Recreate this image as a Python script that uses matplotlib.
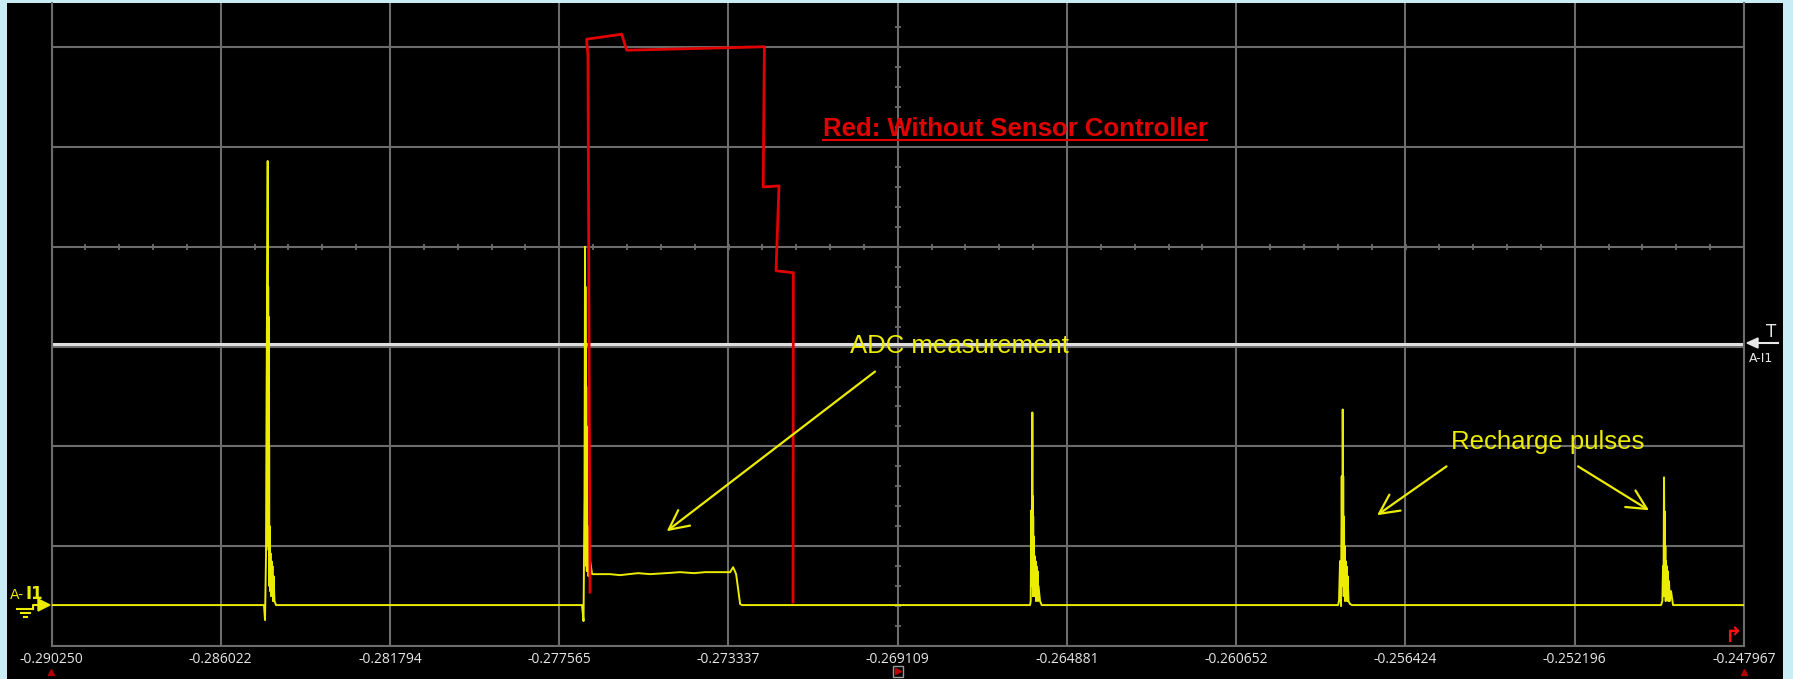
import numpy as np
import matplotlib
matplotlib.use("Agg")
import matplotlib.pyplot as plt
from matplotlib.lines import Line2D
from matplotlib.patches import Rectangle, Polygon

# --- data ---
# time axis (s), one label per division
tick_times = [-0.290250, -0.286022, -0.281794, -0.277565, -0.273337, -0.269109,
              -0.264881, -0.260652, -0.256424, -0.252196, -0.247967]
# vertical axis in divisions, 0 = bottom of screen
BASE = 0.41            # yellow idle level
trigger_level = 3.03   # white trigger line

# red trace: without sensor controller
red_t = [-0.276797, -0.276847, -0.276872, -0.276880, -0.276005, -0.275880,
         -0.273299, -0.272440, -0.272470, -0.272075, -0.272150, -0.271717, -0.271725]
red_v = [0.54, 5.92, 6.02, 6.08, 6.13, 5.97, 5.995, 6.005, 4.60, 4.61, 3.76, 3.74, 0.44]

# yellow trace: start time of each burst (s) and points relative to it (us)
pulse_start = [-0.284941, -0.276996, -0.265804, -0.258109, -0.250040]

pulse1_us = [0, 25, 50, 62, 92, 96, 100, 104, 108, 112, 116, 120, 124, 128, 134, 142,
             152, 162, 175, 188, 200, 212, 225, 238, 262, 300]
pulse1_v = [0.41, 0.26, 0.9, 2.3, 4.86, 3.75, 1.2, 3.6, 1.0, 3.3, 0.96, 2.8, 0.9, 2.0,
            0.6, 1.2, 0.55, 0.93, 0.5, 0.85, 0.6, 0.8, 0.45, 0.7, 0.45, 0.41]

# ADC measurement burst with plateau
pulse2_us = [0, 37, 62, 75, 80, 85, 90, 95, 100, 105, 110, 115, 120, 125, 137, 150, 162,
             187, 250, 700, 950, 1400, 1700, 2100, 2450, 2800, 3075, 3400, 3700, 3775,
             3850, 3950, 4000]
pulse2_v = [0.41, 0.25, 1.5, 4.0, 2.1, 3.6, 1.0, 3.0, 0.9, 2.6, 0.8, 2.2, 0.75, 1.6, 0.8,
            1.2, 0.7, 0.9, 0.72, 0.72, 0.71, 0.73, 0.72, 0.73, 0.74, 0.73, 0.74, 0.74,
            0.74, 0.79, 0.72, 0.42, 0.41]

pulse3_us = [0, 17, 33, 42, 58, 62, 67, 71, 75, 79, 83, 88, 92, 100, 108, 117, 128, 138,
             150, 162, 175, 188, 200, 212, 250, 292]
pulse3_v = [0.41, 0.45, 1.36, 0.6, 2.34, 1.95, 0.6, 1.5, 0.5, 1.3, 0.5, 1.1, 0.5, 1.0,
            0.5, 0.9, 0.55, 0.85, 0.45, 0.8, 0.5, 0.75, 0.45, 0.6, 0.45, 0.41]

pulse4_us = [0, 25, 50, 75, 92, 108, 117, 121, 125, 129, 133, 138, 142, 150, 158, 167,
             175, 188, 200, 212, 225, 240, 262, 300, 350]
pulse4_v = [0.41, 0.45, 0.85, 0.4, 1.7, 0.6, 2.37, 1.9, 0.7, 1.7, 0.6, 1.3, 0.5, 1.2,
            0.5, 1.0, 0.45, 0.85, 0.5, 0.8, 0.45, 0.7, 0.45, 0.42, 0.41]

pulse5_us = [0, 33, 50, 62, 75, 79, 83, 88, 92, 96, 100, 108, 117, 125, 133, 145, 158,
             170, 183, 200, 217, 250, 300]
pulse5_v = [0.41, 0.45, 0.8, 0.5, 1.69, 1.40, 0.6, 1.35, 0.55, 1.2, 0.5, 1.0, 0.45, 0.85,
            0.5, 0.8, 0.5, 0.75, 0.45, 0.65, 0.45, 0.55, 0.41]

pulses = [(pulse1_us, pulse1_v), (pulse2_us, pulse2_v), (pulse3_us, pulse3_v),
          (pulse4_us, pulse4_v), (pulse5_us, pulse5_v)]

# annotation anchors (time, div)
red_label = "Red: Without Sensor Controller"
red_label_pos = (-0.266179, 5.18)
adc_label = "ADC measurement"
adc_label_pos = (-0.267565, 3.01)
adc_arrow = ((-0.269676, 2.75), (-0.274880, 1.15))
recharge_label = "Recharge pulses"
recharge_label_pos = (-0.252863, 2.04)
recharge_arrows = [((-0.255399, 1.80), (-0.257135, 1.31)),
                   ((-0.252113, 1.80), (-0.250340, 1.36))]

# --- build yellow trace ---
x_min, x_max = tick_times[0], tick_times[-1]
yellow_t = [x_min]
yellow_v = [BASE]
for t0, (dt, v) in zip(pulse_start, pulses):
    yellow_t += [t0 + d * 1e-6 for d in dt]
    yellow_v += list(v)
yellow_t.append(x_max)
yellow_v.append(BASE)

# --- figure ---
W, H = 1793, 679
def fx(x):
    return x / W
def fy(y):
    return 1 - y / H

YEL = '#ecec00'
RED = '#e30000'
GRID = '#6c6c6c'

fig = plt.figure(figsize=(W / 100, H / 100), dpi=100, facecolor='#c9edf5')
fig.add_artist(Rectangle((fx(7), 0), fx(1783) - fx(7), fy(3), transform=fig.transFigure,
                         facecolor='black', edgecolor='none', zorder=0))

def fig_line(xs, ys, **kw):
    fig.add_artist(Line2D([fx(x) for x in xs], [fy(y) for y in ys],
                          transform=fig.transFigure, **kw))

ax = fig.add_axes([fx(51.5), 33 / H, (1744 - 51.5) / W, (646 - 3) / H])
ax.set_facecolor('black')
ax.set_xlim(x_min, x_max)
ax.set_ylim(0, 643 / 99.8)
ax.set_xticks(tick_times)
ax.set_xticklabels([f"{t:.6f}" for t in tick_times], family='Open Sans')
ax.set_yticks(range(1, 7))
ax.set_yticklabels([])
ax.tick_params(axis='x', length=0, pad=4, colors='#e6e6e6', labelsize=10)
ax.tick_params(axis='y', length=0)
ax.grid(True, color=GRID, lw=1.5, zorder=1)
ax.set_axisbelow(True)
for side in ['left', 'right', 'bottom']:
    ax.spines[side].set_color(GRID)
    ax.spines[side].set_linewidth(1.5)
ax.spines['top'].set_visible(False)

# graticule minor ticks on centre lines
div = (x_max - x_min) / 10
hx = np.arange(x_min, x_max + div / 10, div / 5)
ax.plot(hx, [4] * len(hx), ls='none', marker='|', ms=5, mew=1.3, color=GRID, zorder=1.5)
vy = np.arange(0, 6.4, 0.2)
ax.plot([tick_times[5]] * len(vy), vy, ls='none', marker='_', ms=5, mew=1.3, color=GRID, zorder=1.5)

# trigger line
ax.axhline(trigger_level, color='#dedede', lw=2.2, zorder=2)

# traces
ax.plot(yellow_t, yellow_v, color=YEL, lw=1.4, zorder=3)
ax.plot(red_t, red_v, color=RED, lw=2.0, zorder=4)

# annotations
arrow_kw = dict(arrowstyle='->,head_length=0.7,head_width=0.35', color=YEL, lw=1.6,
                shrinkA=0, shrinkB=0, mutation_scale=20)
ax.annotate('', xy=adc_arrow[1], xytext=adc_arrow[0], arrowprops=arrow_kw, zorder=5)
for tail, tip in recharge_arrows:
    ax.annotate('', xy=tip, xytext=tail, arrowprops=arrow_kw, zorder=5)
ax.text(*adc_label_pos, adc_label, ha='center', va='center', color=YEL,
        fontsize=18.5, family='Liberation Sans', zorder=6)
ax.text(*recharge_label_pos, recharge_label, ha='center', va='center', color=YEL,
        fontsize=18.5, family='Liberation Sans', zorder=6)
rt = ax.text(*red_label_pos, red_label, ha='center', va='center', color=RED,
             fontsize=18.5, fontweight='bold', family='Liberation Sans', zorder=6)

# underline for the red label
fig.canvas.draw()
bb = rt.get_window_extent()
fig.add_artist(Line2D([bb.x0 / W, bb.x1 / W], [(bb.y0 + 1) / H, (bb.y0 + 1) / H],
                      transform=fig.transFigure, color=RED, lw=1.5))

# channel marker on the left
fig.text(fx(17), fy(595), 'A-', color=YEL, fontsize=10, ha='center', va='center')
fig.text(fx(34), fy(594), 'I1', color=YEL, fontsize=12, fontweight='bold', ha='center', va='center')
fig_line([17, 33], [609, 609], color=YEL, lw=1.5)
fig_line([21, 30], [613, 613], color=YEL, lw=1.5)
fig_line([24, 27], [617, 617], color=YEL, lw=1.5)
fig_line([33, 33, 40], [609, 605, 605], color=YEL, lw=1.5)
fig.add_artist(Polygon([[fx(38), fy(599)], [fx(50), fy(605)], [fx(38), fy(611)]],
                       closed=True, transform=fig.transFigure, color=YEL))

# trigger marker on the right
fig_line([1756, 1778], [343, 343], color='#e8e8e8', lw=1.5)
fig.add_artist(Polygon([[fx(1747), fy(343)], [fx(1758), fy(338)], [fx(1758), fy(348)]],
                       closed=True, transform=fig.transFigure, color='#e8e8e8'))
fig.text(fx(1771), fy(332), 'T', color='#e8e8e8', fontsize=12, ha='center', va='center')
fig.text(fx(1761), fy(359), 'A-I1', color='#e8e8e8', fontsize=9, ha='center', va='center')

# small markers below the axis
for xp in [51, 1744]:
    fig_line([xp], [672], ls='none', marker='^', ms=5, color='#b00000')
fig.add_artist(Rectangle((fx(893), fy(677)), 10 / W, 11 / H, transform=fig.transFigure,
                         facecolor='none', edgecolor='#9a9a9a', lw=1))
fig_line([898], [671], ls='none', marker='>', ms=4, color='#c00000')
fig.text(fx(1734), fy(636), '\u21b1', color='#ff1010', fontsize=15, fontweight='bold',
         ha='center', va='center')

fig.savefig('out.png', dpi=100, facecolor=fig.get_facecolor())
